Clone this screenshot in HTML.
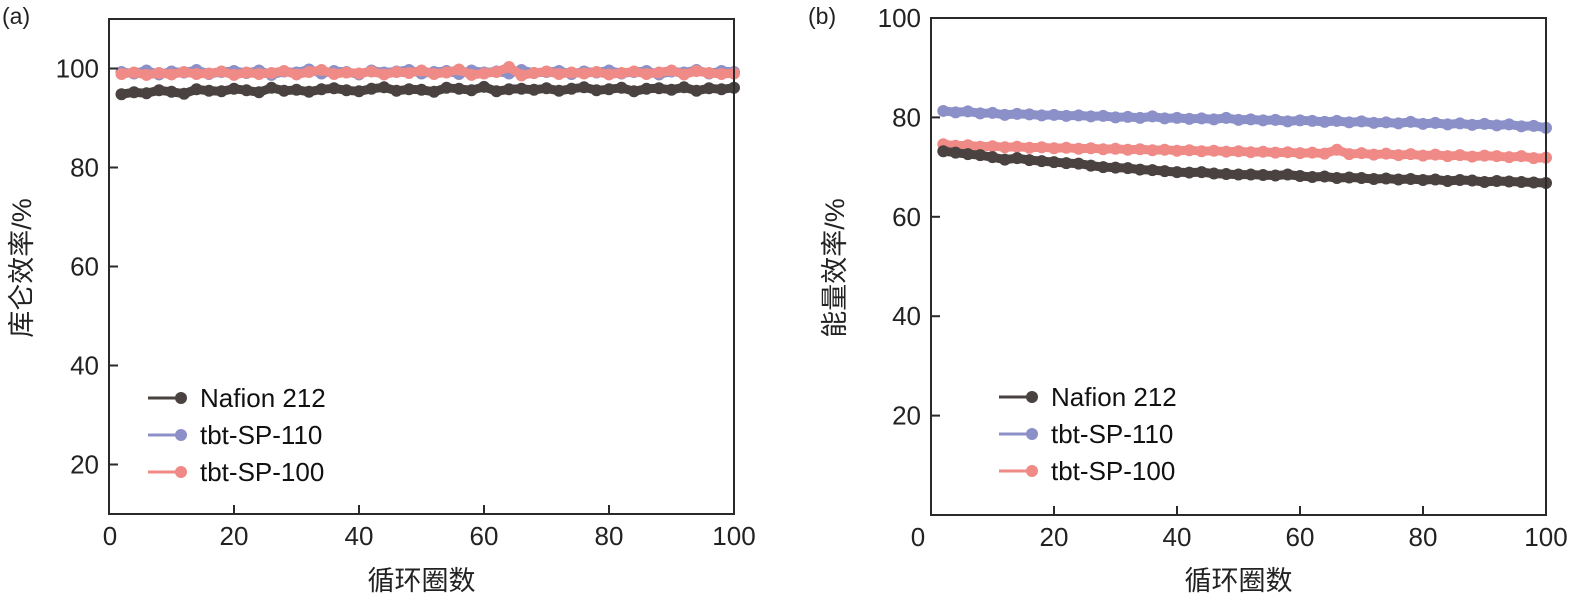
<!DOCTYPE html>
<html><head><meta charset="utf-8">
<style>
html,body{margin:0;padding:0;background:#fff;}
svg{display:block;font-family:"Liberation Sans","Noto Sans CJK SC",sans-serif;}
</style></head>
<body>
<svg id="chart" width="1573" height="598" viewBox="0 0 1573 598"></svg>
<script>
const cycles = [2,4,6,8,10,12,14,16,18,20,22,24,26,28,30,32,34,36,38,40,42,44,46,48,50,52,54,56,58,60,62,64,66,68,70,72,74,76,78,80,82,84,86,88,90,92,94,96,98,100];
const seriesNames = ["tbt-SP-110","tbt-SP-100","Nafion 212"];
const legendOrder = ["Nafion 212","tbt-SP-110","tbt-SP-100"];
const colors = {"Nafion 212":"#4a4240","tbt-SP-110":"#8c90c8","tbt-SP-100":"#ef8a86"};
const xTicks = [0,20,40,60,80,100];
const yTicksA = [20,40,60,80,100];
const yTicksB = [20,40,60,80,100];
const aNafion = [94.8,95.2,95.0,95.6,95.3,94.9,95.8,95.5,95.4,95.9,95.6,95.2,96.1,95.5,95.7,95.3,95.8,96.0,95.6,95.4,95.9,96.2,95.5,95.8,95.7,95.3,96.1,95.9,95.6,96.3,95.4,95.8,95.9,95.7,96.0,95.5,95.9,96.2,95.6,95.8,96.1,95.4,95.9,96.0,95.7,96.2,95.5,96.0,95.8,96.1];
const a110 = [99.3,99.0,99.6,98.8,99.4,99.2,99.7,98.9,99.3,99.5,99.1,99.6,98.7,99.4,99.2,99.8,99.0,99.5,99.3,98.8,99.6,99.2,99.4,99.7,99.0,99.3,99.5,98.9,99.6,99.2,99.4,99.0,99.7,99.1,99.3,99.5,98.9,99.4,99.2,99.6,99.0,99.3,99.5,98.8,99.4,99.2,99.7,99.0,99.5,99.3];
const a100 = [98.9,99.2,98.7,99.1,98.8,99.3,98.9,99.0,99.4,98.7,99.2,98.9,99.1,99.5,98.8,99.3,99.7,98.9,99.2,99.0,99.4,98.8,99.3,99.1,99.6,98.9,99.2,99.8,98.7,99.0,99.3,100.3,98.6,99.1,99.4,98.9,99.2,99.0,99.3,98.8,99.1,99.4,98.9,99.2,99.6,98.8,99.5,99.1,98.9,99.0];
const bNafion = [73.2,72.9,72.6,72.4,72.0,71.5,71.8,71.4,71.2,71.0,70.8,70.7,70.3,70.0,69.9,69.8,69.5,69.4,69.2,69.0,68.9,69.0,68.7,68.6,68.5,68.5,68.4,68.3,68.5,68.2,68.0,68.1,67.8,67.9,67.8,67.6,67.7,67.5,67.6,67.4,67.5,67.2,67.4,67.3,67.0,67.2,67.1,67.0,66.9,66.8];
const b110 = [81.3,81.0,81.2,80.8,80.9,80.5,80.7,80.6,80.4,80.5,80.3,80.4,80.2,80.3,80.0,80.1,79.9,80.2,79.8,79.9,79.7,79.8,79.6,79.9,79.5,79.6,79.4,79.5,79.2,79.4,79.3,79.1,79.3,79.0,79.2,78.9,79.0,78.8,79.1,78.7,78.9,78.6,78.8,78.5,78.7,78.4,78.6,78.2,78.3,77.9];
const b100 = [74.6,74.3,74.4,74.1,74.2,74.0,74.1,73.9,74.0,73.8,73.9,73.7,73.8,73.6,73.7,73.5,73.6,73.4,73.5,73.3,73.4,73.2,73.3,73.1,73.2,73.0,73.1,72.9,73.0,72.8,72.9,72.7,73.5,72.6,72.8,72.5,72.7,72.4,72.6,72.3,72.5,72.2,72.4,72.1,72.3,72.2,72.0,72.2,71.8,71.9];

const NS = "http://www.w3.org/2000/svg";
const svg = document.getElementById('chart');
function mk(tag, attrs, parent){
  const e = document.createElementNS(NS, tag);
  for (const k in attrs) e.setAttribute(k, attrs[k]);
  (parent||svg).appendChild(e);
  return e;
}
function panel(p){
  const g = mk('g', {});
  
  
  const sx = v => p.left + (v - 0) / 100 * (p.right - p.left);
  const sy = v => p.bottom - (v - p.ymin) / (p.ymax - p.ymin) * (p.bottom - p.top);
  const data = {"Nafion 212": p.naf, "tbt-SP-110": p.s110, "tbt-SP-100": p.s100};
  seriesNames.forEach(n => {
    const sg = mk('g', {}, g);
    
    
    const pts = cycles.map((c,i) => sx(c).toFixed(1) + ',' + sy(data[n][i]).toFixed(1)).join(' ');
    mk('polyline', {points: pts, fill:'none', stroke: colors[n], 'stroke-width': 9, 'stroke-linejoin':'round', 'stroke-linecap':'round'}, sg);
    cycles.forEach((c,i) => {
      const d = mk('circle', {cx: sx(c), cy: sy(data[n][i]), r: 6, fill: colors[n]}, sg);
      
      
    });
  });
  const fr = mk('rect', {x:p.left, y:p.top, width:p.right-p.left, height:p.bottom-p.top, fill:'none', stroke:'#2a2a2a', 'stroke-width':2}, g);
  
  
  xTicks.forEach(t => {
    const x = sx(t);
    mk('line', {x1:x, x2:x, y1:p.bottom, y2:p.bottom-9, stroke:'#2a2a2a', 'stroke-width':2}, g);
    const lx = (t === 0) ? x + p.zeroOffset : x;
    const tx = mk('text', {x:lx, y:p.bottom+31, 'font-size':26, 'text-anchor':'middle', fill:'#222'}, g);
    
    
    tx.textContent = t;
  });
  p.yTicks.forEach(t => {
    const y = sy(t);
    mk('line', {x1:p.left, x2:p.left+9, y1:y, y2:y, stroke:'#2a2a2a', 'stroke-width':2}, g);
    const tx = mk('text', {x:p.left-10, y:y+9, 'font-size':26, 'text-anchor':'end', fill:'#222'}, g);
    
    
    tx.textContent = t;
  });
  const xt = mk('text', {x:(p.left+p.right)/2, y:590, 'font-size':27, 'text-anchor':'middle', fill:'#222'}, g);
  
  
  xt.textContent = '循环圈数';
  const yt = mk('text', {x:0, y:0, 'font-size':27, 'text-anchor':'middle', fill:'#222', transform:'translate(' + p.ytx + ',268) rotate(-90)'}, g);
  
  
  yt.textContent = p.ytitle;
  const pl = mk('text', {x:p.labelX, y:24, 'font-size':23, fill:'#222'}, g);
  
  
  pl.textContent = p.label;
  legendOrder.forEach((n,i) => {
    const y = p.legY + i*37;
    const lg = mk('g', {}, g);
    
    
    mk('line', {x1:p.legX, x2:p.legX+34, y1:y, y2:y, stroke:colors[n], 'stroke-width':3}, lg);
    mk('circle', {cx:p.legX+33, cy:y, r:6, fill:colors[n]}, lg);
    const t = mk('text', {x:p.legX+52, y:y+9, 'font-size':26, fill:'#111'}, lg);
    t.textContent = n;
  });
}
panel({id:'coulombic', left:109, right:734, top:19, bottom:514, ymin:10, ymax:110, yTicks:yTicksA,
  naf:aNafion, s110:a110, s100:a100, ytitle:'库仑效率/%', ytx:31, label:'(a)', labelX:2,
  legX:148, legY:398, zeroOffset:1});
panel({id:'energy', left:931, right:1546, top:18, bottom:515, ymin:0, ymax:100, yTicks:yTicksB,
  naf:bNafion, s110:b110, s100:b100, ytitle:'能量效率/%', ytx:844, label:'(b)', labelX:808,
  legX:999, legY:397, zeroOffset:-13});
</script>
</body></html>
